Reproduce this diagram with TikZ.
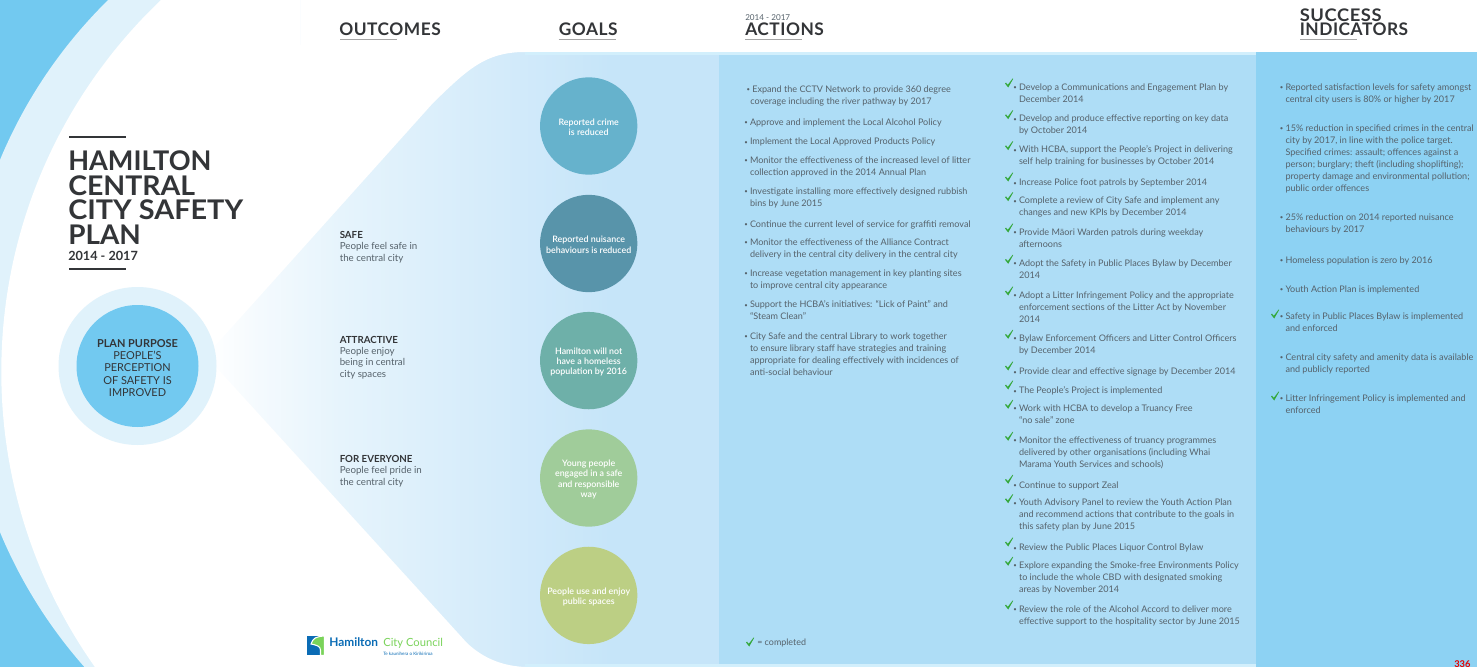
\documentclass[tikz,border=0pt]{standalone}
\usepackage{fontspec}
\setmainfont{Lato}
\newfontfamily\headfont[LetterSpace=3]{Lato}
\newfontfamily\semib{Lato Semibold}
\definecolor{txt}{HTML}{56626B}
\definecolor{dark}{HTML}{333538}
\definecolor{blueA}{HTML}{72C9F0}
\definecolor{blueB}{HTML}{E0F2FB}
\definecolor{goalsbg}{HTML}{C6E5F9}
\definecolor{gs1}{HTML}{F4FAFE}
\definecolor{gs2}{HTML}{E6F4FC}
\definecolor{gs3}{HTML}{D4EBFA}
\definecolor{actbg}{HTML}{AEDDF6}
\definecolor{indbg}{HTML}{8DD2F3}
\definecolor{stripe}{HTML}{D2EFFC}
\definecolor{chkc}{HTML}{35A83C}
\definecolor{logoB}{HTML}{0B6CB5}
\definecolor{logoG}{HTML}{7AD35A}
\definecolor{goalA}{HTML}{66B2CC}
\definecolor{goalB}{HTML}{5894AA}
\definecolor{goalC}{HTML}{6EB0A9}
\definecolor{goalD}{HTML}{A0CC9A}
\definecolor{goalE}{HTML}{BCCF84}
\pgfdeclarehorizontalshading{panelshade}{100bp}{color(0bp)=(white); color(25bp)=(white); color(30.2bp)=(gs1); color(38bp)=(gs2); color(53.6bp)=(gs3); color(64.4bp)=(goalsbg); color(75bp)=(goalsbg); color(100bp)=(goalsbg)}
\newcommand\bul{\llap{\raisebox{.06em}{\fontsize{4.5pt}{5pt}\selectfont\textbullet}\hspace{1.6pt}}}
\tikzset{
  x=0.75pt,y=-0.75pt,
  body/.style={anchor=north west,inner sep=0pt,outer sep=0pt,align=left,text=txt,yshift=5pt,
    font=\fontsize{6.8pt}{9pt}\selectfont,execute at begin node=\strut},
  outc/.style={anchor=north west,inner sep=0pt,align=left,text=txt,yshift=4.7pt,
    font=\fontsize{7.3pt}{8.5pt}\selectfont,execute at begin node=\strut},
  goal/.style={circle,minimum size=73pt,inner sep=0pt},
  goaltext/.style={inner sep=0pt,align=center,text=white,yshift=-1pt,
    font=\fontsize{6.65pt}{7.75pt}\semib\selectfont},
  head/.style={anchor=base west,inner sep=0pt,text=dark,font=\fontsize{13pt}{13pt}\bfseries\headfont},
  headbar/.style={draw=black!35,line width=1.1pt},
  titlebar/.style={draw=dark,line width=1.7pt},
  titleline/.style={anchor=base west,inner sep=0pt,text=dark,font=\fontsize{20.3pt}{20pt}\bfseries\selectfont},
  chkmark/.pic={\fill[chkc] (-4,0.5) -- (-3,-0.3) -- (-1.2,1.8) -- (3.6,-4.5) -- (4.2,-4.2) -- (-0.8,4.5) -- cycle;},
}
\begin{document}
\begin{tikzpicture}
\useasboundingbox (0,0) rectangle (1477,667);
\clip (0,0) rectangle (1477,667);
% corner arcs
\fill[blueA] (0,0) rectangle (300,667);
\begin{scope}
\clip (0,0) rectangle (300,667);
\fill[blueB] (448,346) circle (485);
\fill[white] (513.7,371.7) circle (512.4);
\end{scope}
% panels
\shade[shading=panelshade] (207,52) rectangle (719,667);
\fill[white] (206,356) -- (433,103) .. controls (467,70) and (485,52) .. (525,52) -- (730,52) -- (730,45) -- (206,45) -- cycle;
\fill[white] (206,356) -- (467,643) .. controls (485,660) and (505,666) .. (525,667) -- (525,668) -- (206,668) -- cycle;
\fill[actbg] (719,52) rectangle (1256,667);
\fill[indbg] (1256,52) rectangle (1477,667);
\fill[stripe] (525,52) rectangle (1256,55);
\fill[stripe] (525,664) rectangle (1256,667);
% purpose circle
\node[circle,fill=blueB,minimum size=118.5pt,inner sep=0pt] (ring) at (137.5,366) {};
\node[circle,fill=blueA,minimum size=91.5pt,inner sep=0pt] (purpose) at (137.5,366) {};
\node[inner sep=0pt,align=center,text=dark,font=\fontsize{8.2pt}{9.2pt}\selectfont] (purposetext) at (137.5,368)
  {\textbf{PLAN PURPOSE}\\PEOPLE'S\\PERCEPTION\\OF SAFETY IS\\IMPROVED};
% title
\draw[titlebar] (69,137.3) -- (126,137.3);
\node[titleline] (t1) at (68,170) {HAMILTON};
\node[titleline] (t2) at (68,195) {\scalebox{1.05}[1]{CENTRAL}};
\node[titleline] (t3) at (68,219.7) {\scalebox{1.065}[1]{CITY SAFETY}};
\node[titleline] (t4) at (68,244.4) {\scalebox{1.03}[1]{PLAN}};
\node[anchor=base west,inner sep=0pt,text=dark,font=\fontsize{9.5pt}{11pt}\bfseries\selectfont] (ty) at (68,260) {2014 - 2017};
\draw[titlebar] (69,269) -- (126,269);
% headings
\node[head] (hO) at (339,35.7) {OUTCOMES};
\draw[headbar] (340,39.5) -- (397,39.5);
\node[head] (hG) at (558.5,35.7) {GOALS};
\draw[headbar] (558.5,39.5) -- (615.5,39.5);
\node[head] (hA) at (745,35.7) {ACTIONS};
\draw[headbar] (745,39.5) -- (802,39.5);
\node[anchor=base west,inner sep=0pt,text=txt,font=\fontsize{6.1pt}{7pt}\selectfont] (hAy) at (745,21) {2014 - 2017};
\node[head] (hS1) at (1299.5,21.7) {\scalebox{1.06}[1]{SUCCESS}};
\node[head] (hS2) at (1299.5,35.7) {INDICATORS};
\draw[headbar] (1300,39.5) -- (1356.5,39.5);
% outcomes
\node[outc] (o1) at (339.5,237.5) {\textbf{\color{dark}SAFE}\\People feel safe in\\the central city};
\node[outc] (o2) at (339.5,342) {\textbf{\color{dark}ATTRACTIVE}\\People enjoy\\being in central\\city spaces};
\node[outc] (o3) at (339.5,461.5) {\textbf{\color{dark}FOR EVERYONE}\\People feel pride in\\the central city};
% goals
\node[goal,fill=goalA] (g1) at (588.7,126) {};
\node[goaltext] (g1t) at (g1) {Reported crime\\is reduced};
\node[goal,fill=goalB] (g2) at (588.7,243.5) {};
\node[goaltext] (g2t) at (g2) {Reported nuisance\\behaviours is reduced};
\node[goal,fill=goalC] (g3) at (588.7,360.6) {};
\node[goaltext] (g3t) at (g3) {Hamilton will not\\have a homeless\\population by 2016};
\node[goal,fill=goalD] (g4) at (588.7,478) {};
\node[goaltext] (g4t) at (g4) {Young people\\engaged in a safe\\and responsible\\way};
\node[goal,fill=goalE] (g5) at (588.7,595.4) {};
\node[goaltext] (g5t) at (g5) {People use and enjoy\\public spaces};
% actions, first column
\node[body] (a1) at (750.3,92) {\hspace*{1.5pt}\bul Expand the CCTV Network to provide 360 degree\\coverage including the river pathway by 2017};
\node[body] (a2) at (750,123.5) {\bul Approve and implement the Local Alcohol Policy};
\node[body] (a3) at (750,143) {\bul Implement the Local Approved Products Policy};
\node[body] (a4) at (750,163) {\bul Monitor the effectiveness of the increased level of litter\\collection approved in the 2014 Annual Plan};
\node[body] (a5) at (750,194) {\bul Investigate installing more effectively designed rubbish\\bins by June 2015};
\node[body] (a6) at (750,225.7) {\bul Continue the current level of service for graffiti removal};
\node[body] (a7) at (750,245) {\bul Monitor the effectiveness of the Alliance Contract\\delivery in the central city delivery in the central city};
\node[body] (a8) at (750,276.5) {\bul Increase vegetation management in key planting sites\\to improve central city appearance};
\node[body] (a9) at (750,307.7) {\bul Support the HCBA's initiatives: “Lick of Paint” and\\“Steam Clean”};
\node[body] (a10) at (750,339) {\bul City Safe and the central Library to work together\\to ensure library staff have strategies and training\\appropriate for dealing effectively with incidences of\\anti-social behaviour};
% legend
\pic at (750,642) {chkmark};
\node[anchor=base west,inner sep=0pt,text=txt,font=\fontsize{6.7pt}{7pt}\selectfont] (leg) at (757,645.5) {= completed};
% actions, second column
\newcommand\bitem[3]{\pic at (1009,#2-4) {chkmark}; \node[body] (#1) at (1019,#2+3) {\bul #3};}
\bitem{b1}{87}{Develop a Communications and Engagement Plan by\\December 2014}
\bitem{b2}{118.7}{Develop and produce effective reporting on key data\\by October 2014}
\bitem{b3}{149.7}{With HCBA, support the People's Project in delivering\\self help training for businesses by October 2014}
\bitem{b4}{181}{Increase Police foot patrols by September 2014}
\bitem{b5}{200.7}{Complete a review of City Safe and implement any\\changes and new KPIs by December 2014}
\bitem{b6}{232}{Provide Māori Warden patrols during weekday\\afternoons}
\bitem{b7}{263.3}{Adopt the Safety in Public Places Bylaw by December\\2014}
\bitem{b8}{295}{Adopt a Litter Infringement Policy and the appropriate\\enforcement sections of the Litter Act by November\\2014}
\bitem{b9}{338.3}{Bylaw Enforcement Officers and Litter Control Officers\\by December 2014}
\bitem{b10}{370}{Provide clear and effective signage by December 2014}
\bitem{b11}{389}{The People's Project is implemented}
\bitem{b12}{408.3}{Work with HCBA to develop a Truancy Free\\“no sale” zone}
\bitem{b13}{440.3}{Monitor the effectiveness of truancy programmes\\delivered by other organisations (including Whai\\Marama Youth Services and schools)}
\bitem{b14}{483.3}{Continue to support Zeal}
\bitem{b15}{502.7}{Youth Advisory Panel to review the Youth Action Plan\\and recommend actions that contribute to the goals in\\this safety plan by June 2015}
\bitem{b16}{546}{Review the Public Places Liquor Control Bylaw}
\bitem{b17}{565.3}{Explore expanding the Smoke-free Environments Policy\\to include the whole CBD with designated smoking\\areas by November 2014}
\bitem{b18}{609}{Review the role of the Alcohol Accord to deliver more\\effective support to the hospitality sector by June 2015}
% indicators
\node[body] (c1) at (1285.5,90) {\bul Reported satisfaction levels for safety amongst\\central city users is 80\% or higher by 2017};
\node[body] (c2) at (1285.5,131.3) {\bul 15\% reduction in specified crimes in the central\\city by 2017, in line with the police target.\\Specified crimes: assault; offences against a\\person; burglary; theft (including shoplifting);\\property damage and environmental pollution;\\public order offences};
\node[body] (c3) at (1285.5,220.3) {\bul 25\% reduction on 2014 reported nuisance\\behaviours by 2017};
\node[body] (c4) at (1285.5,261.3) {\bul Homeless population is zero by 2016};
\node[body] (c5) at (1285.5,290.3) {\bul Youth Action Plan is implemented};
\pic at (1275,314) {chkmark};
\node[body] (c6) at (1285.5,319.3) {\bul Safety in Public Places Bylaw is implemented\\and enforced};
\node[body] (c7) at (1285.5,360.3) {\bul Central city safety and amenity data is available\\and publicly reported};
\pic at (1275,396) {chkmark};
\node[body] (c8) at (1285.5,401.3) {\bul Litter Infringement Policy is implemented and\\enforced};
% page number
\node[anchor=base west,inner sep=0pt,text=red!90!black,font=\fontsize{7pt}{7pt}\bfseries\selectfont] (pg) at (1454,667) {336};
% logo
\fill[logoB] (307,636) rectangle (324,655);
\fill[logoG,draw=white,line width=0.8pt] (311,644) .. controls (313,638) and (316,636.5) .. (324.5,636) -- (324.5,655.5) -- (320.5,655.5) -- (320.5,650) .. controls (320.5,646) and (316,645) .. (311,644) -- cycle;
\node[anchor=base west,inner sep=0pt,text=logoB,font=\fontsize{8.9pt}{9pt}\bfseries\selectfont] (lg1) at (329,646.5) {Hamilton};
\node[anchor=base west,inner sep=0pt,text=logoG,font=\fontsize{8.4pt}{9pt}\selectfont] (lg2) at (383,646.5) {City Council};
\node[anchor=base west,inner sep=0pt,text=logoB,font=\fontsize{3.4pt}{4pt}\selectfont] (lg3) at (383,655) {Te kaunihera o Kirikiriroa};
\end{tikzpicture}
\end{document}
